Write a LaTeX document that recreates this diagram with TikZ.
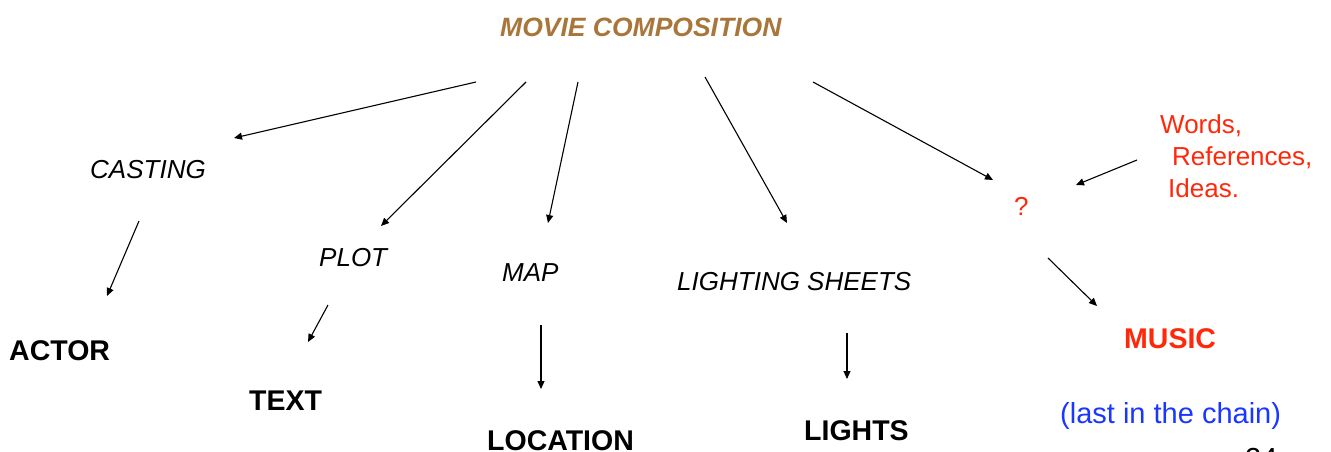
\documentclass[tikz,border=0pt]{standalone}
\usepackage{fontspec}
\setmainfont{Liberation Sans}
\usetikzlibrary{arrows.meta}
\definecolor{titlebrown}{RGB}{168,118,58}
\definecolor{hotred}{RGB}{255,40,10}
\definecolor{chainblue}{RGB}{25,55,255}
\begin{document}
\begin{tikzpicture}[x=1pt,y=-1pt,
  lbl/.style={inner sep=0pt,anchor=base west,font=\fontsize{26}{30}\selectfont},
  itlbl/.style={lbl,font=\fontsize{26}{30}\selectfont\itshape},
  bflbl/.style={lbl,font=\fontsize{28.5}{32}\selectfont\bfseries},
  link/.style={line width=1.1pt,-{Triangle[length=8pt,width=7pt]}}]
\useasboundingbox (0,0) rectangle (1331,452);

% labels
\node[itlbl,font=\fontsize{26.5}{30}\selectfont\bfseries\itshape,text=titlebrown] (title) at (500,37) {MOVIE COMPOSITION};
\node[itlbl] (casting) at (90,178) {CASTING};
\node[itlbl] (plot) at (319,266) {PLOT};
\node[itlbl] (map) at (502,281) {MAP};
\node[itlbl] (lsheets) at (677,290) {LIGHTING SHEETS};
\node[lbl,text=hotred] (quest) at (1014,215) {?};
\node[lbl,text=hotred] (words) at (1160,133) {Words,};
\node[lbl,text=hotred] (refs) at (1172,165) {References,};
\node[lbl,text=hotred] (ideas) at (1168,197) {Ideas.};
\node[bflbl] (actor) at (9,360) {ACTOR};
\node[bflbl] (text) at (249,410) {TEXT};
\node[bflbl] (location) at (487,450) {LOCATION};
\node[bflbl] (lights) at (804,440) {LIGHTS};
\node[bflbl,text=hotred] (music) at (1124,348) {MUSIC};
\node[lbl,font=\fontsize{29}{32}\selectfont,text=chainblue] (chain) at (1060,423) {(last in the chain)};
\node[lbl,font=\fontsize{29}{32}\selectfont] (page) at (1245,468) {24};

% connector end points
\coordinate (c1a) at (476,82);  \coordinate (c1b) at (234,138);
\coordinate (c2a) at (526,82);  \coordinate (c2b) at (381,226);
\coordinate (c3a) at (578,82);  \coordinate (c3b) at (548,223);
\coordinate (c4a) at (705,77);  \coordinate (c4b) at (787,223);
\coordinate (c5a) at (813,82);  \coordinate (c5b) at (993,180);
\coordinate (c6a) at (1137,160); \coordinate (c6b) at (1076,185);
\coordinate (c7a) at (139,221); \coordinate (c7b) at (107,296);
\coordinate (c8a) at (328,305); \coordinate (c8b) at (308,342);
\coordinate (c9a) at (541,325); \coordinate (c9b) at (541,389);
\coordinate (c10a) at (847,333); \coordinate (c10b) at (847,379);
\coordinate (c11a) at (1048,258); \coordinate (c11b) at (1097,306);

% connectors
\foreach \i in {1,...,11}
  \draw[link] (c\i a) -- (c\i b);
\end{tikzpicture}
\end{document}
